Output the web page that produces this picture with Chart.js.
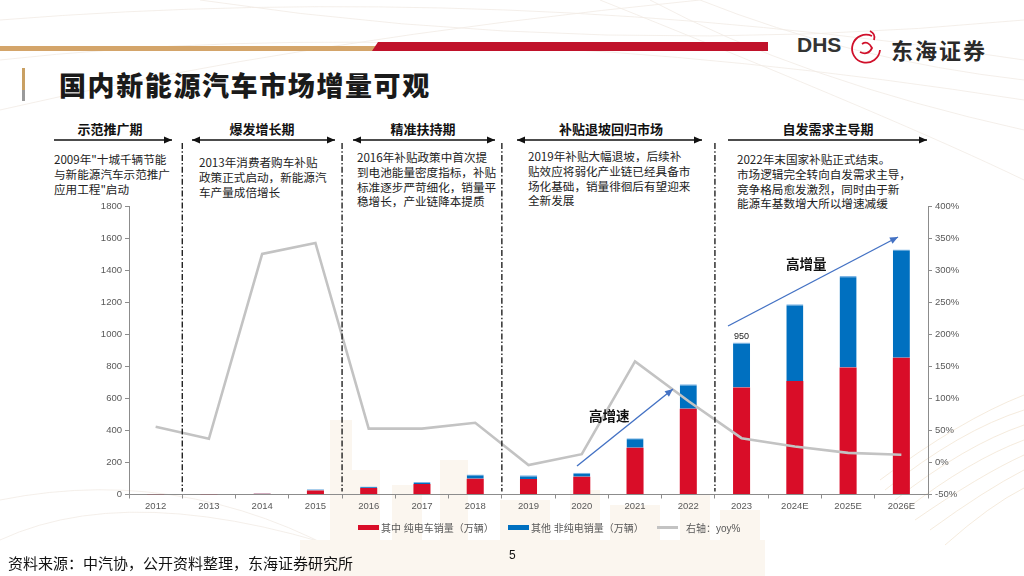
<!DOCTYPE html>
<html><head><meta charset="utf-8">
<script src="https://cdn.jsdelivr.net/npm/chart.js@4.4.1/dist/chart.umd.min.js"></script>
<style>
html,body{margin:0;padding:0;width:1024px;height:576px;overflow:hidden;background:#fff;}
#page{position:relative;width:1024px;height:576px;font-family:"Noto Sans CJK SC","Noto Sans",sans-serif;}
.abs{position:absolute;white-space:nowrap;}
#bg{position:absolute;left:0;top:0;}
#c{position:absolute;left:0;top:0;}
.hdr{font-size:13px;font-weight:700;color:#111;transform:translateX(-50%);line-height:16px;}
.blk{font-size:11.6px;color:#222;line-height:14.8px;}
.leg{font-family:"Liberation Sans","Noto Sans CJK SC",sans-serif;font-size:10px;color:#595959;display:flex;align-items:center;}
.sw{display:inline-block;width:21px;height:5px;margin-right:2px;}
</style></head>
<body><div id="page">
<svg id="bg" width="1024" height="576">
  <g fill="none" stroke="#f1ebe4" stroke-width="0.8">
    <path d="M0 20 Q 500 -20 1024 60"/>
    <path d="M0 60 Q 450 10 1024 100"/>
    <path d="M200 0 Q 600 60 1024 20"/>
    <path d="M650 0 Q 800 80 1024 130"/>
    <path d="M700 0 Q 850 60 1024 80"/>
    <path d="M600 0 Q 900 120 1024 180"/>
    <path d="M0 110 Q 300 40 700 0"/>
    <path d="M0 540 Q 150 470 420 576"/>
    <path d="M0 500 Q 200 460 380 576"/>
  </g>
  <g fill="#fbf6ef">
    <rect x="330" y="420" width="22" height="156"/>
    <rect x="352" y="470" width="28" height="106"/>
    <rect x="392" y="485" width="30" height="91"/>
    <rect x="440" y="460" width="28" height="116"/>
    <rect x="500" y="500" width="50" height="76"/>
    <rect x="570" y="490" width="30" height="86"/>
    <rect x="610" y="505" width="50" height="71"/>
    <rect x="680" y="495" width="30" height="81"/>
    <rect x="720" y="510" width="40" height="66"/>
    <rect x="300" y="540" width="465" height="36"/>
  </g>
  <g fill="none" stroke="#f0e2cf" stroke-width="0.7">
    <path d="M880 480 Q 960 420 1024 395"/>
    <path d="M885 490 Q 960 430 1024 410"/>
    <path d="M895 500 Q 965 445 1024 425"/>
    <path d="M905 510 Q 970 460 1024 440"/>
    <path d="M915 520 Q 980 475 1024 455"/>
    <path d="M930 530 Q 985 490 1024 470"/>
    <path d="M945 545 Q 990 505 1024 488"/>
  </g>
  <rect x="0" y="46" width="380" height="5" fill="#d4a56a"/>
  <polygon points="378,42 768,42 768,51 372,51" fill="#c0122a"/>
  <rect x="22" y="68" width="3" height="22" fill="#c9a063"/>
  <rect x="22" y="90" width="3" height="11" fill="#9a9a9a"/>
  <g fill="none" stroke="#d0102a" stroke-width="1.8">
    <path d="M872 36 A 14 14 0 1 0 880 50"/>
    <path d="M862 44 Q 868 40 872 48 Q 868 56 860 52"/>
    <path d="M870 31 Q 876 34 874 40"/>
  </g>
</svg>
<div class="abs" style="left:797px;top:33px;font-family:'Liberation Sans',sans-serif;font-weight:700;font-size:21px;color:#333;">DHS</div>
<div class="abs" style="left:891px;top:33px;font-weight:700;font-size:22px;color:#2a2a2a;letter-spacing:2px;">东海证券</div>
<div class="abs" style="left:59px;top:67px;font-weight:900;font-size:27px;color:#1a1a1a;letter-spacing:1.6px;line-height:36px;">国内新能源汽车市场增量可观</div>

<div class="abs hdr" style="left:110px;top:121px;">示范推广期</div>
<div class="abs hdr" style="left:262px;top:121px;">爆发增长期</div>
<div class="abs hdr" style="left:423px;top:121px;">精准扶持期</div>
<div class="abs hdr" style="left:611px;top:121px;">补贴退坡回归市场</div>
<div class="abs hdr" style="left:828px;top:121px;">自发需求主导期</div>

<div class="abs blk" style="left:54px;top:152px;">2009年"十城千辆节能<br>与新能源汽车示范推广<br>应用工程"启动</div>
<div class="abs blk" style="left:199px;top:155px;">2013年消费者购车补贴<br>政策正式启动，新能源汽<br>车产量成倍增长</div>
<div class="abs blk" style="left:357px;top:150px;">2016年补贴政策中首次提<br>到电池能量密度指标，补贴<br>标准逐步严苛细化，销量平<br>稳增长，产业链降本提质</div>
<div class="abs blk" style="left:528px;top:149px;">2019年补贴大幅退坡，后续补<br>贴效应将弱化产业链已经具备市<br>场化基础，销量徘徊后有望迎来<br>全新发展</div>
<div class="abs blk" style="left:737px;top:152px;">2022年末国家补贴正式结束。<br>市场逻辑完全转向自发需求主导，<br>竞争格局愈发激烈，同时由于新<br>能源车基数增大所以增速减缓</div>

<canvas id="c" width="1024" height="576"></canvas>

<div class="abs" style="left:589px;top:405px;font-weight:700;font-size:13.5px;color:#111;">高增速</div>
<div class="abs" style="left:786px;top:253px;font-weight:700;font-size:13.5px;color:#111;">高增量</div>

<div class="abs leg" style="left:358px;top:520px;"><span class="sw" style="background:#d90d28"></span>其中 纯电车销量（万辆）</div>
<div class="abs leg" style="left:508px;top:520px;"><span class="sw" style="background:#0070c0"></span>其他 非纯电销量（万辆）</div>
<div class="abs leg" style="left:657px;top:520px;"><span class="sw" style="background:#c3c3c3;height:2.5px;margin-right:8px;"></span>右轴：yoy%</div>

<div class="abs" style="left:509px;top:548px;font-family:'Liberation Sans',sans-serif;font-size:12px;color:#111;">5</div>
<div class="abs" style="left:8px;top:553px;font-size:15px;color:#111;line-height:20px;">资料来源：中汽协，公开资料整理，东海证券研究所</div>
</div>
<script>
const years = ['2012','2013','2014','2015','2016','2017','2018','2019','2020','2021','2022','2023','2024E','2025E','2026E'];
const bevSales = [1.1, 1.5, 4.5, 25.5, 40.9, 65.2, 98.4, 97.2, 111.5, 291.6, 536.5, 668, 709, 793, 855];
const otherSales = [0.2, 0.3, 3.0, 7.6, 9.8, 12.5, 27.2, 23.4, 25.2, 60.5, 152.2, 282, 480, 573, 677];
const yoyPct = [56, 37, 326, 343, 53, 53, 62, -4, 13, 158, 96, 38, 25, 15, 12];
const leftTicks = {min:0, max:1800, step:200};
const rightTicks = {min:-50, max:400, step:50};
const phaseBoundaries = [0, 3, 6, 10]; // divider after these category indices
const labelIndex = 11; // total label shown on 2023 bar

const tickFont = {family:"'Liberation Sans','Noto Sans',sans-serif", size:9.5};
const axisColor = '#8c8c8c';

function arrowHead(ctx, x, y, dx, dy, len, half, color){
  const l = Math.hypot(dx,dy); const ux=dx/l, uy=dy/l;
  ctx.fillStyle=color; ctx.beginPath();
  ctx.moveTo(x,y);
  ctx.lineTo(x-ux*len - uy*half, y-uy*len + ux*half);
  ctx.lineTo(x-ux*len + uy*half, y-uy*len - ux*half);
  ctx.closePath(); ctx.fill();
}
function arrow(ctx, x1,y1,x2,y2,color,w,startHead,endHead,len,half){
  ctx.save(); ctx.strokeStyle=color; ctx.lineWidth=w; ctx.setLineDash([]);
  ctx.beginPath(); ctx.moveTo(x1,y1); ctx.lineTo(x2,y2); ctx.stroke();
  if(endHead) arrowHead(ctx,x2,y2,x2-x1,y2-y1,len,half,color);
  if(startHead) arrowHead(ctx,x1,y1,x1-x2,y1-y2,len,half,color);
  ctx.restore();
}

const overlay = {
  id:'overlay',
  afterDatasetsDraw(chart){
    const ctx = chart.ctx, xs = chart.scales.x;
    const ca = chart.chartArea;
    ctx.save();
    ctx.strokeStyle='#111'; ctx.lineWidth=1.3; ctx.setLineDash([6,2.2,1.5,2.2]);
    phaseBoundaries.forEach(i=>{
      const x = (xs.getPixelForValue(i)+xs.getPixelForValue(i+1))/2;
      ctx.beginPath(); ctx.moveTo(x,143); ctx.lineTo(x,ca.bottom-3); ctx.stroke();
    });
    ctx.restore();
    const ay = 140;
    arrow(ctx,54,ay,172,ay,'#111',1.3,false,true,8,3.5);
    arrow(ctx,192,ay,335,ay,'#111',1.3,true,true,8,3.5);
    arrow(ctx,353,ay,495,ay,'#111',1.3,true,true,8,3.5);
    arrow(ctx,517,ay,702,ay,'#111',1.3,true,true,8,3.5);
    arrow(ctx,728,ay,927,ay,'#111',1.3,false,true,8,3.5);
    arrow(ctx,577,466,673,389,'#4472c4',1.4,false,true,8,3.5);
    arrow(ctx,728,326,898,237,'#4472c4',1.4,false,true,8,3.5);
    const meta = chart.getDatasetMeta(2);
    const el = meta.data[labelIndex];
    const total = Math.round(bevSales[labelIndex]+otherSales[labelIndex]);
    ctx.save(); ctx.fillStyle='#222'; ctx.font="9px 'Liberation Sans',sans-serif";
    ctx.textAlign='center'; ctx.textBaseline='bottom';
    ctx.fillText(String(total), el.x, el.y-1);
    ctx.restore();
  }
};

new Chart(document.getElementById('c'), {
  data:{
    labels: years,
    datasets:[
      {type:'line', label:'右轴：yoy%', data:yoyPct, yAxisID:'y1', borderColor:'#c3c3c3', borderWidth:2.6, pointRadius:0, tension:0, order:0},
      {type:'bar', label:'其中 纯电车销量（万辆）', data:bevSales, yAxisID:'y', backgroundColor:'#d90d28', stack:'s', order:1, categoryPercentage:0.8, barPercentage:0.4},
      {type:'bar', label:'其他 非纯电销量（万辆）', data:otherSales, yAxisID:'y', backgroundColor:'#0070c0', borderColor:'#7fb6e6', borderWidth:{top:1.2,left:0,right:0,bottom:0}, borderSkipped:false, stack:'s', order:1, categoryPercentage:0.8, barPercentage:0.4}
    ]
  },
  options:{
    responsive:false, animation:false,
    layout:{padding:{top:206.5, bottom:51.5, left:0, right:0}},
    plugins:{legend:{display:false}, tooltip:{enabled:false}},
    scales:{
      x:{stacked:true, offset:true,
         grid:{display:true, drawOnChartArea:false, drawTicks:true, tickLength:4, color:axisColor, offset:true},
         border:{display:true, color:axisColor, width:1},
         ticks:{color:'#595959', font:tickFont, maxRotation:0, autoSkip:false, padding:2},
         afterFit(s){ s.height = 30; }},
      y:{stacked:true, position:'left', min:leftTicks.min, max:leftTicks.max,
         grid:{display:true, drawOnChartArea:false, tickLength:4, color:axisColor},
         border:{display:true, color:axisColor, width:1},
         ticks:{stepSize:leftTicks.step, color:'#595959', font:tickFont, padding:3, callback:v=>String(v)},
         afterFit(s){ s.width = 129; }},
      y1:{position:'right', min:rightTicks.min, max:rightTicks.max,
         grid:{display:true, drawOnChartArea:false, tickLength:4, color:axisColor},
         border:{display:true, color:axisColor, width:1},
         ticks:{stepSize:rightTicks.step, color:'#595959', font:tickFont, padding:3, callback:v=>v+'%'},
         afterFit(s){ s.width = 96; }}
    }
  },
  plugins:[overlay]
});
</script>
</body></html>
